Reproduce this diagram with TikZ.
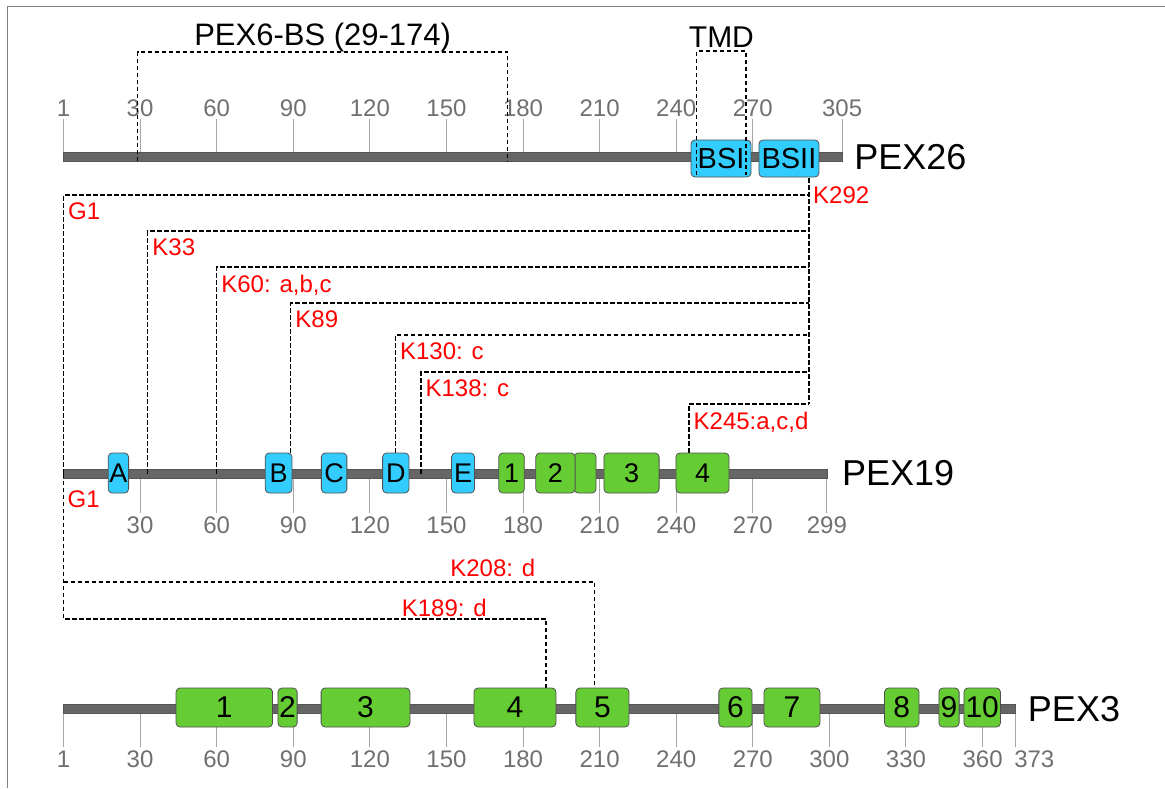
\documentclass[tikz,border=0pt]{standalone}
\usepackage{fontspec}
\setmainfont{Liberation Sans}
\usepackage{tikz}
\usetikzlibrary{calc}
\definecolor{barfill}{HTML}{666666}
\definecolor{baredge}{HTML}{555555}
\definecolor{bsblue}{HTML}{33CCFF}
\definecolor{bsgreen}{HTML}{66CC33}
\definecolor{boxedge}{HTML}{505050}
\definecolor{tickgray}{HTML}{A6A6A6}
\definecolor{numgray}{HTML}{707070}
\definecolor{framegray}{HTML}{808080}
\definecolor{sitered}{HTML}{FF0000}

\tikzset{
  seqbar/.style={fill=barfill, draw=baredge, line width=0.6pt},
  tickline/.style={draw=tickgray, line width=1pt},
  ticknum/.style={text=numgray, font=\fontsize{24}{28}\selectfont, inner sep=2pt},
  dombox/.style={draw=boxedge, line width=0.8pt, rounded corners=4pt, inner sep=0pt},
  bluebox/.style={dombox, fill=bsblue},
  greenbox/.style={dombox, fill=bsgreen},
  link/.style={draw=black, line width=1.4pt, dash pattern=on 4.5pt off 2.5pt},
  sitelab/.style={text=sitered, font=\fontsize{24}{28}\selectfont, anchor=north west, inner xsep=4pt, inner ysep=7pt},
  pexlab/.style={font=\fontsize{36}{40}\selectfont, anchor=west, inner sep=0pt},
  headlab/.style={font=\fontsize{30}{34}\selectfont, anchor=base, inner sep=0pt},
}

% box from residue #3 to #4, centred at height #5
\newcommand{\domainbox}[6]{\node[#1, minimum width={2.553*(#4-#3)}] (#2) at ({(#3+#4)/2},#5) {#6};}

\begin{document}
\begin{tikzpicture}[x=1pt, y=-1pt]
\useasboundingbox (0,0) rectangle (1165,788);
\draw[framegray, line width=1pt] (7.5,788) |- (1165,6.5);

\begin{scope}[xshift=63.5pt, x=2.553pt]
% scales
\foreach \r/\t in {0/1,30/30,60/60,90/90,120/120,150/150,180/180,210/210,240/240,270/270,305/305}
  \draw[tickline] (\r,153) -- (\r,119) node[ticknum, anchor=south] (n26-\t) {\t};
\foreach \r in {30,60,...,270,299}
  \draw[tickline] (\r,478) -- (\r,513) node[ticknum, anchor=north, inner sep=3pt] (n19-\r) {\r};
\foreach \r/\t in {0/1,30/30,60/60,90/90,120/120,150/150,180/180,210/210,240/240,270/270,300/300,330/330,360/360}
  \draw[tickline] (\r,713) -- (\r,747) node[ticknum, anchor=north, inner sep=3pt] (n3-\t) {\t};
\draw[tickline] (373,713) -- (373,747) node[ticknum, anchor=north west, inner sep=3pt, xshift=-5pt] (n3-373) {373};

\draw[seqbar] (0,152.7) rectangle (305,161.3);
\draw[seqbar] (0,469) rectangle (299,478);
\draw[seqbar] (0,704) rectangle (373,713);

% crosslinks PEX19 - PEX26
\coordinate (k292) at (292,157);
\foreach \r/\lev/\lab in {0/195/G1, 33/231/K33, 60/267/{K60: a,b,c}, 89/303/K89, 130/335/{K130: c}, 140/372/{K138: c}, 245/404/{K245:a,c,d}} {
  \coordinate (s\r) at (\r,473.5);
  \coordinate (t\r) at (292,\lev);
  \draw[link] (s\r) |- (t\r) node[pos=0.5, sitelab] (l\r) {\lab};
}
\draw[link] (k292) -- (t245);
\node[sitelab, anchor=west, inner ysep=2pt] (lk292) at (292,195) {K292};
\node[sitelab] (lg1) at ([yshift=-10pt]s0) {G1};

% crosslinks PEX19 - PEX3
\coordinate (p189) at (189,708.5);
\coordinate (h189) at (189,619);
\coordinate (p208) at (208,708.5);
\coordinate (h208) at (208,582);
\draw[link] (s0) |- (h189) -- (p189);
\draw[link] (s0 |- h208) -- (h208) -- (p208);
\node[sitelab, anchor=base east, inner sep=3pt] (l208) at ([xshift=-56pt,yshift=6pt]h208) {K208: d};
\node[sitelab, anchor=base east, inner sep=3pt] (l189) at ([xshift=-56pt,yshift=2.5pt]h189) {K189: d};

% PEX26
\domainbox{bluebox, minimum height=37pt, font=\fontsize{29}{30}\selectfont}{bs1}{245.8}{269.3}{158.5}{BSI}
\domainbox{bluebox, minimum height=37pt, font=\fontsize{29}{30}\selectfont}{bs2}{272.4}{295.9}{158.5}{BSII}

% PEX19
\domainbox{bluebox, minimum height=40pt, font=\fontsize{27}{28}\selectfont}{dA}{17.5}{25.5}{473}{A}
\domainbox{bluebox, minimum height=40pt, font=\fontsize{27}{28}\selectfont}{dB}{79}{89.5}{473}{B}
\domainbox{bluebox, minimum height=40pt, font=\fontsize{27}{28}\selectfont}{dC}{101}{111}{473}{C}
\domainbox{bluebox, minimum height=40pt, font=\fontsize{27}{28}\selectfont}{dD}{125}{135.3}{473}{D}
\domainbox{bluebox, minimum height=40pt, font=\fontsize{27}{28}\selectfont}{dE}{152}{161}{473}{E}
\domainbox{greenbox, minimum height=40pt, font=\fontsize{27}{28}\selectfont}{h1}{170.5}{180.5}{473}{1}
\domainbox{greenbox, minimum height=40pt, font=\fontsize{27}{28}\selectfont}{h2b}{200}{208.6}{473}{}
\domainbox{greenbox, minimum height=40pt, font=\fontsize{27}{28}\selectfont}{h2}{185}{200.4}{473}{2}
\domainbox{greenbox, minimum height=40pt, font=\fontsize{27}{28}\selectfont}{h3}{211.7}{233.3}{473}{3}
\domainbox{greenbox, minimum height=40pt, font=\fontsize{27}{28}\selectfont}{h4}{239.9}{260.7}{473}{4}

% PEX3
\domainbox{greenbox, minimum height=39pt, font=\fontsize{30}{32}\selectfont}{m1}{44.1}{81.9}{707.5}{1}
\domainbox{greenbox, minimum height=39pt, font=\fontsize{30}{32}\selectfont}{m2}{84}{91.5}{707.5}{2}
\domainbox{greenbox, minimum height=39pt, font=\fontsize{30}{32}\selectfont}{m3}{100.9}{135.7}{707.5}{3}
\domainbox{greenbox, minimum height=39pt, font=\fontsize{30}{32}\selectfont}{m4}{160.8}{192.9}{707.5}{4}
\domainbox{greenbox, minimum height=39pt, font=\fontsize{30}{32}\selectfont}{m5}{200.7}{221.5}{707.5}{5}
\domainbox{greenbox, minimum height=39pt, font=\fontsize{30}{32}\selectfont}{m6}{256.7}{269.7}{707.5}{6}
\domainbox{greenbox, minimum height=39pt, font=\fontsize{30}{32}\selectfont}{m7}{274.4}{296.3}{707.5}{7}
\domainbox{greenbox, minimum height=39pt, font=\fontsize{30}{32}\selectfont}{m8}{321.6}{335.1}{707.5}{8}
\domainbox{greenbox, minimum height=39pt, font=\fontsize{30}{32}\selectfont}{m9}{342.9}{350.8}{707.5}{9}
\domainbox{greenbox, minimum height=39pt, font=\fontsize{30}{32}\selectfont}{m10}{352.7}{367}{707.5}{10}

% brackets on PEX26
\coordinate (bsL) at (29,161);
\coordinate (bsR) at (174,161);
\coordinate (bsT) at (101.5,52);
\draw[link] (bsL) |- (bsT) -| (bsR);
\node[headlab, font=\fontsize{31}{34}\selectfont] (bstitle) at (101.5,45) {PEX6-BS (29-174)};
\coordinate (tmL) at (248,175);
\coordinate (tmR) at (267.3,175);
\coordinate (tmT) at (257.7,51);
\draw[link] (tmL) |- (tmT) -| (tmR);
\node[headlab] (tmtitle) at (257.7,47) {TMD};

\node[pexlab, xshift=12pt] (pex26) at (305,157) {PEX26};
\node[pexlab, xshift=15pt] (pex19) at (299,473) {PEX19};
\node[pexlab, xshift=12pt] (pex3) at (373,709) {PEX3};
\end{scope}
\end{tikzpicture}
\end{document}
